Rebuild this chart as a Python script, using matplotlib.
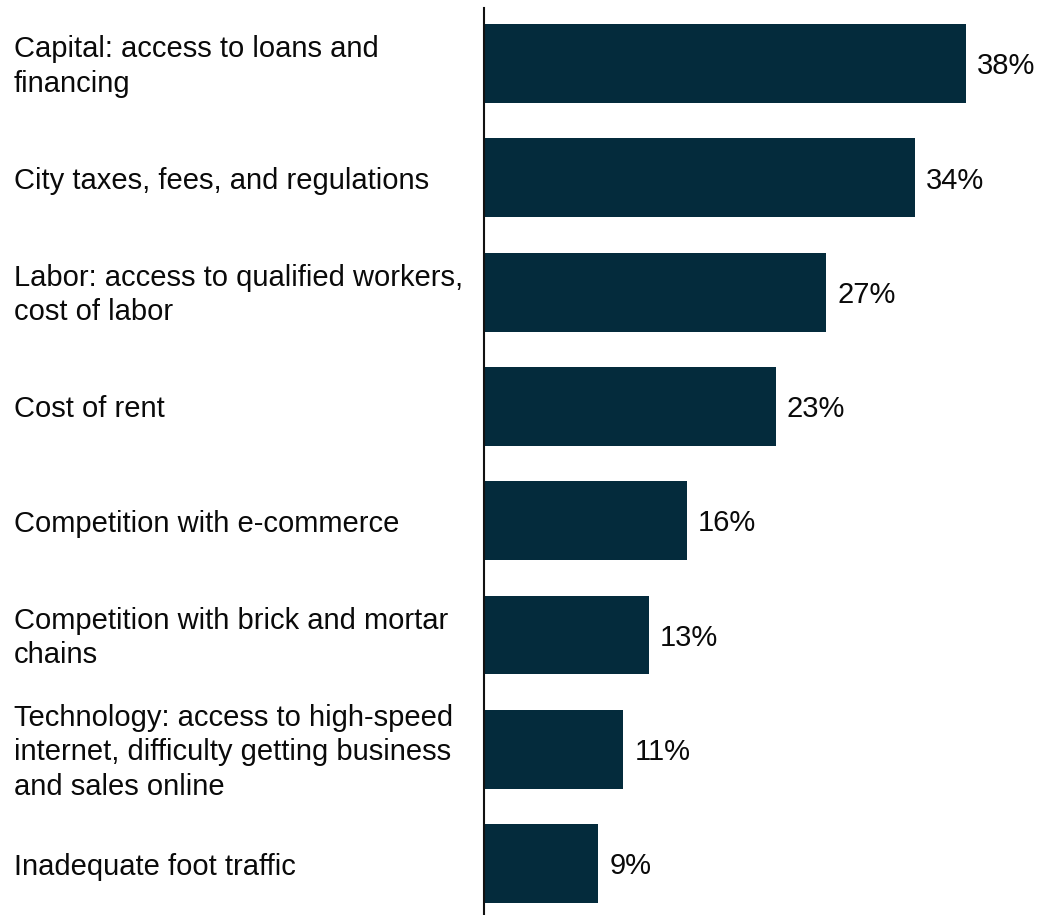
import matplotlib
matplotlib.use("Agg")
import matplotlib.pyplot as plt
from matplotlib.transforms import blended_transform_factory, ScaledTranslation

plt.rcParams['font.family'] = ['Liberation Sans', 'DejaVu Sans']

categories = [
    "Capital: access to loans and\nfinancing",
    "City taxes, fees, and regulations",
    "Labor: access to qualified workers,\ncost of labor",
    "Cost of rent",
    "Competition with e-commerce",
    "Competition with brick and mortar\nchains",
    "Technology: access to high-speed\ninternet, difficulty getting business\nand sales online",
    "Inadequate foot traffic",
]
values = [38, 34, 27, 23, 16, 13, 11, 9]

bar_color = "#042B3C"
text_color = "#0a0a0a"
fs = 21

fig = plt.figure(figsize=(10.41, 9.15), dpi=100)
ax = fig.add_axes([484 / 1041, 0.0, 1 - 484 / 1041, 1 - 8 / 915])

ypos = list(range(len(categories)))
ax.barh(ypos, values, height=0.69, color=bar_color)
ax.set_xlim(0, (1041 - 484) / 12.68)
ax.set_ylim(len(categories) - 1 + 0.45, -0.486)

for y, v in zip(ypos, values):
    ax.annotate(f"{v}%", xy=(v, y), xytext=(8, -2), textcoords="offset points",
                ha="left", va="center", fontsize=fs, color=text_color)

# category labels sit at the left edge of the figure, aligned with each bar
shift = ScaledTranslation(0, -3 / 100, fig.dpi_scale_trans)
trans = blended_transform_factory(fig.transFigure, ax.transData) + shift
for y, label in zip(ypos, categories):
    ax.text(14 / 1041, y, label, transform=trans, ha="left", va="center",
            fontsize=fs, color=text_color, linespacing=1.3, clip_on=False)

for s in ["top", "right", "bottom"]:
    ax.spines[s].set_visible(False)
ax.spines["left"].set_linewidth(1.5)
ax.spines["left"].set_color("#111111")
ax.set_xticks([])
ax.set_yticks([])

fig.savefig("out.png", dpi=100)
